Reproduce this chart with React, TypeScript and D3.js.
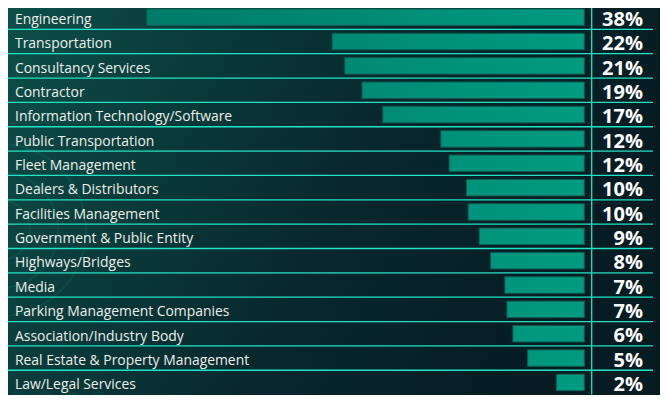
import React, { useRef, useEffect } from 'react';
import * as d3 from 'd3';

const categories = [
  'Engineering',
  'Transportation',
  'Consultancy Services',
  'Contractor',
  'Information Technology/Software',
  'Public Transportation',
  'Fleet Management',
  'Dealers & Distributors',
  'Facilities Management',
  'Government & Public Entity',
  'Highways/Bridges',
  'Media',
  'Parking Management Companies',
  'Association/Industry Body',
  'Real Estate & Property Management',
  'Law/Legal Services',
];

// bar lengths (unrounded)
const shares = [38, 21.9, 20.8, 19.3, 17.5, 12.46, 11.74, 10.23, 10.09, 9.13, 8.14, 6.9, 6.72, 6.2, 4.92, 2.43];

// printed labels
const shareLabels = ['38%', '22%', '21%', '19%', '17%', '12%', '12%', '10%', '10%', '9%', '8%', '7%', '7%', '6%', '5%', '2%'];

const W = 668;
const H = 403;

export default function App() {
  const svgRef = useRef<SVGSVGElement>(null);

  useEffect(() => {
    if (!svgRef.current) return;
    const svg = d3.select(svgRef.current);
    svg.selectAll('*').remove();

    const top = 5;
    const rowH = 24.35;
    const barRight = 584.3;
    const divX = 591.7;

    const y = d3.scaleBand<string>()
      .domain(categories)
      .range([top, top + rowH * categories.length])
      .paddingInner(0)
      .paddingOuter(0);

    const x = d3.scaleLinear()
      .domain([0, 38])
      .range([barRight, 146.7]);

    const defs = svg.append('defs');

    const bg = defs.append('linearGradient')
      .attr('id', 'bg')
      .attr('x1', '0').attr('y1', '0')
      .attr('x2', '1').attr('y2', '0.3');
    bg.append('stop').attr('offset', '0%').attr('stop-color', '#0d504a');
    bg.append('stop').attr('offset', '30%').attr('stop-color', '#0a3b3a');
    bg.append('stop').attr('offset', '60%').attr('stop-color', '#08282e');
    bg.append('stop').attr('offset', '100%').attr('stop-color', '#061b22');

    const barGrad = defs.append('linearGradient')
      .attr('id', 'barGrad')
      .attr('gradientUnits', 'userSpaceOnUse')
      .attr('x1', 140).attr('y1', 0)
      .attr('x2', barRight).attr('y2', 0);
    barGrad.append('stop').attr('offset', '0%').attr('stop-color', '#007a68');
    barGrad.append('stop').attr('offset', '100%').attr('stop-color', '#009b81');

    svg.append('rect')
      .attr('width', W)
      .attr('height', H)
      .attr('fill', 'url(#bg)');

    // faint decoration in the background
    const deco = svg.append('g').attr('opacity', 0.35);
    [30, 58, 86].forEach((r) => {
      deco.append('circle')
        .attr('cx', 0).attr('cy', 230)
        .attr('r', r)
        .attr('fill', 'none')
        .attr('stroke', '#0f6a5e')
        .attr('stroke-width', 2);
    });
    [18, 45, 72, 99].forEach((cx) => {
      deco.append('circle')
        .attr('cx', cx).attr('cy', 400)
        .attr('r', 9)
        .attr('fill', '#0c4c4a');
    });

    // bars
    const barH = 16.5;
    svg.append('g')
      .selectAll('rect')
      .data(categories)
      .join('rect')
      .attr('x', (_, i) => x(shares[i]))
      .attr('y', (d) => (y(d) as number) + (y.bandwidth() - barH) / 2)
      .attr('width', (_, i) => x(0) - x(shares[i]))
      .attr('height', barH)
      .attr('fill', 'url(#barGrad)')
      .attr('stroke', '#0b5b50')
      .attr('stroke-width', 1);

    // row separators
    svg.append('g')
      .selectAll('line')
      .data(categories.slice(1))
      .join('line')
      .attr('x1', 5)
      .attr('x2', 653)
      .attr('y1', (d) => y(d) as number)
      .attr('y2', (d) => y(d) as number)
      .attr('stroke', '#22e3c4')
      .attr('stroke-width', 1.3);

    // divider before the numbers
    svg.append('line')
      .attr('x1', divX).attr('x2', divX)
      .attr('y1', top).attr('y2', top + rowH * categories.length)
      .attr('stroke', '#22e3c4')
      .attr('stroke-width', 1.3);

    // category labels
    svg.append('g')
      .selectAll('text')
      .data(categories)
      .join('text')
      .attr('x', 15)
      .attr('y', (d) => (y(d) as number) + y.bandwidth() / 2 + 6.8)
      .attr('font-family', "'Open Sans', sans-serif")
      .attr('font-size', 13.9)
      .attr('fill', '#eef0ea')
      .text((d) => d);

    // value labels
    svg.append('g')
      .selectAll('text')
      .data(categories)
      .join('text')
      .attr('x', 643)
      .attr('text-anchor', 'end')
      .attr('y', (d) => (y(d) as number) + y.bandwidth() / 2 + 8.7)
      .attr('font-family', "'Open Sans', sans-serif")
      .attr('font-weight', 'bold')
      .attr('font-size', 20)
      .attr('fill', '#ffffff')
      .text((_, i) => shareLabels[i]);
  }, []);

  return (
    <div style={{ width: W, height: H, margin: -8 }}>
      <svg ref={svgRef} width={W} height={H} style={{ display: 'block' }} />
    </div>
  );
}
